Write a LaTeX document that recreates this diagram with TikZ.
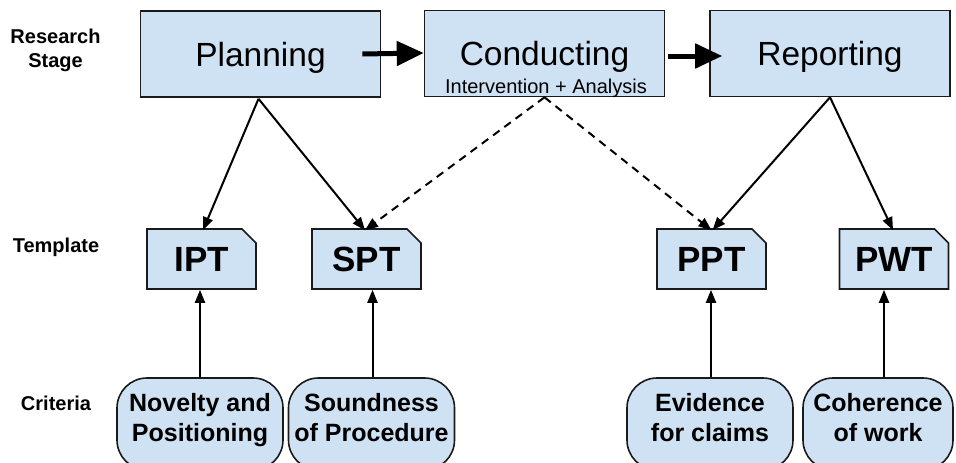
\documentclass[tikz,border=0pt]{standalone}
\usepackage{fontspec}
\setmainfont{Liberation Sans}
\usetikzlibrary{arrows.meta,shapes.misc}
\definecolor{boxfill}{HTML}{CFE2F3}
\definecolor{boxline}{HTML}{1A1A1A}
\begin{document}
\begin{tikzpicture}[x=1pt,y=-1pt,
  stagebox/.style={draw=boxline, fill=boxfill, line width=1.6pt, minimum width=240pt,
    minimum height=86pt, inner sep=0pt, font=\fontsize{33.5}{38}\selectfont,
    text height=24pt, text depth=0pt},
  tmplbox/.style={chamfered rectangle, chamfered rectangle corners=north east,
    chamfered rectangle sep=7pt, draw=boxline, fill=boxfill, line width=1.6pt,
    minimum width=109pt, minimum height=60pt, inner sep=0pt,
    font=\bfseries\fontsize{35}{40}\selectfont, text height=25pt, text depth=0pt},
  critbox/.style={draw=boxline, fill=boxfill, line width=1.6pt, rounded corners=30pt,
    minimum width=166pt, minimum height=92pt, inner sep=0pt, align=center,
    font=\bfseries\fontsize{25}{30}\selectfont, text depth=13pt},
  rowlabel/.style={font=\bfseries\fontsize{20}{24}\selectfont, align=center, inner sep=0pt},
  thin/.style={line width=2pt, draw=black, -{Triangle[length=13pt,width=10pt]}},
  thick/.style={line width=5pt, draw=black, -{Triangle[length=27pt,width=24pt]}},
  dashedarrow/.style={thin, dash pattern=on 8pt off 6pt}
]
\useasboundingbox (0,0) rectangle (956,463);
\clip (0,0) rectangle (956,463);

% row labels
\node[rowlabel] (lstage) at (55.5,50) {Research\\Stage};
\node[rowlabel] (ltmpl) at (56,247) {Template};
\node[rowlabel] (lcrit) at (56,403) {Criteria};

% stages
\node[stagebox] (plan) at (260.5,54) {Planning};
\node[stagebox] (cond) at (544.5,53.5) {Conducting};
\node[stagebox] (rep) at (830,53.5) {Reporting};
\node[font=\fontsize{20}{24}\selectfont, inner sep=0pt, anchor=base] (condsub) at (546,93) {Intervention + Analysis};

% templates
\node[tmplbox] (ipt) at (201.5,259) {IPT};
\node[tmplbox] (spt) at (366.5,259) {SPT};
\node[tmplbox] (ppt) at (711.5,259) {PPT};
\node[tmplbox] (pwt) at (894,259) {PWT};

% criteria
\node[critbox] (nov) at (200,424) {Novelty and\\Positioning};
\node[critbox] (snd) at (371.5,424) {Soundness\\of Procedure};
\node[critbox] (evi) at (710,424) {Evidence\\for claims};
\node[critbox, minimum width=150pt] (coh) at (878,424) {Coherence\\of work};

% stage arrows
\draw[thick] ([xshift=-19pt]plan.east) -- ([yshift=0.5pt]cond.west);
\draw[thick] ([xshift=3pt,yshift=-2.5pt]cond.east) -- ([xshift=13pt,yshift=-2.5pt]rep.west);

% stage to template
\draw[thin] ([xshift=-2pt,yshift=-1pt]plan.south) -- ([xshift=1.5pt,yshift=-2pt]ipt.north);
\draw[thin] ([xshift=-2pt,yshift=-1pt]plan.south) -- ([xshift=-1.5pt,yshift=-2pt]spt.north);
\draw[dashedarrow] (cond.south) -- ([xshift=-1.5pt,yshift=-2pt]spt.north);
\draw[dashedarrow] (cond.south) -- ([yshift=-2pt]ppt.north);
\draw[thin] (rep.south) -- ([xshift=1pt,yshift=-2pt]ppt.north);
\draw[thin] (rep.south) -- ([xshift=-1pt,yshift=-2pt]pwt.north);

% criteria to template
\draw[thin] (nov.north) -- (nov.north |- ipt.south);
\draw[thin] ([xshift=1pt]snd.north) -- ([xshift=1pt]snd.north |- spt.south);
\draw[thin] ([xshift=1pt]evi.north) -- ([xshift=1pt]evi.north |- ppt.south);
\draw[thin] ([xshift=6pt]coh.north) -- ([xshift=6pt]coh.north |- pwt.south);
\end{tikzpicture}
\end{document}
